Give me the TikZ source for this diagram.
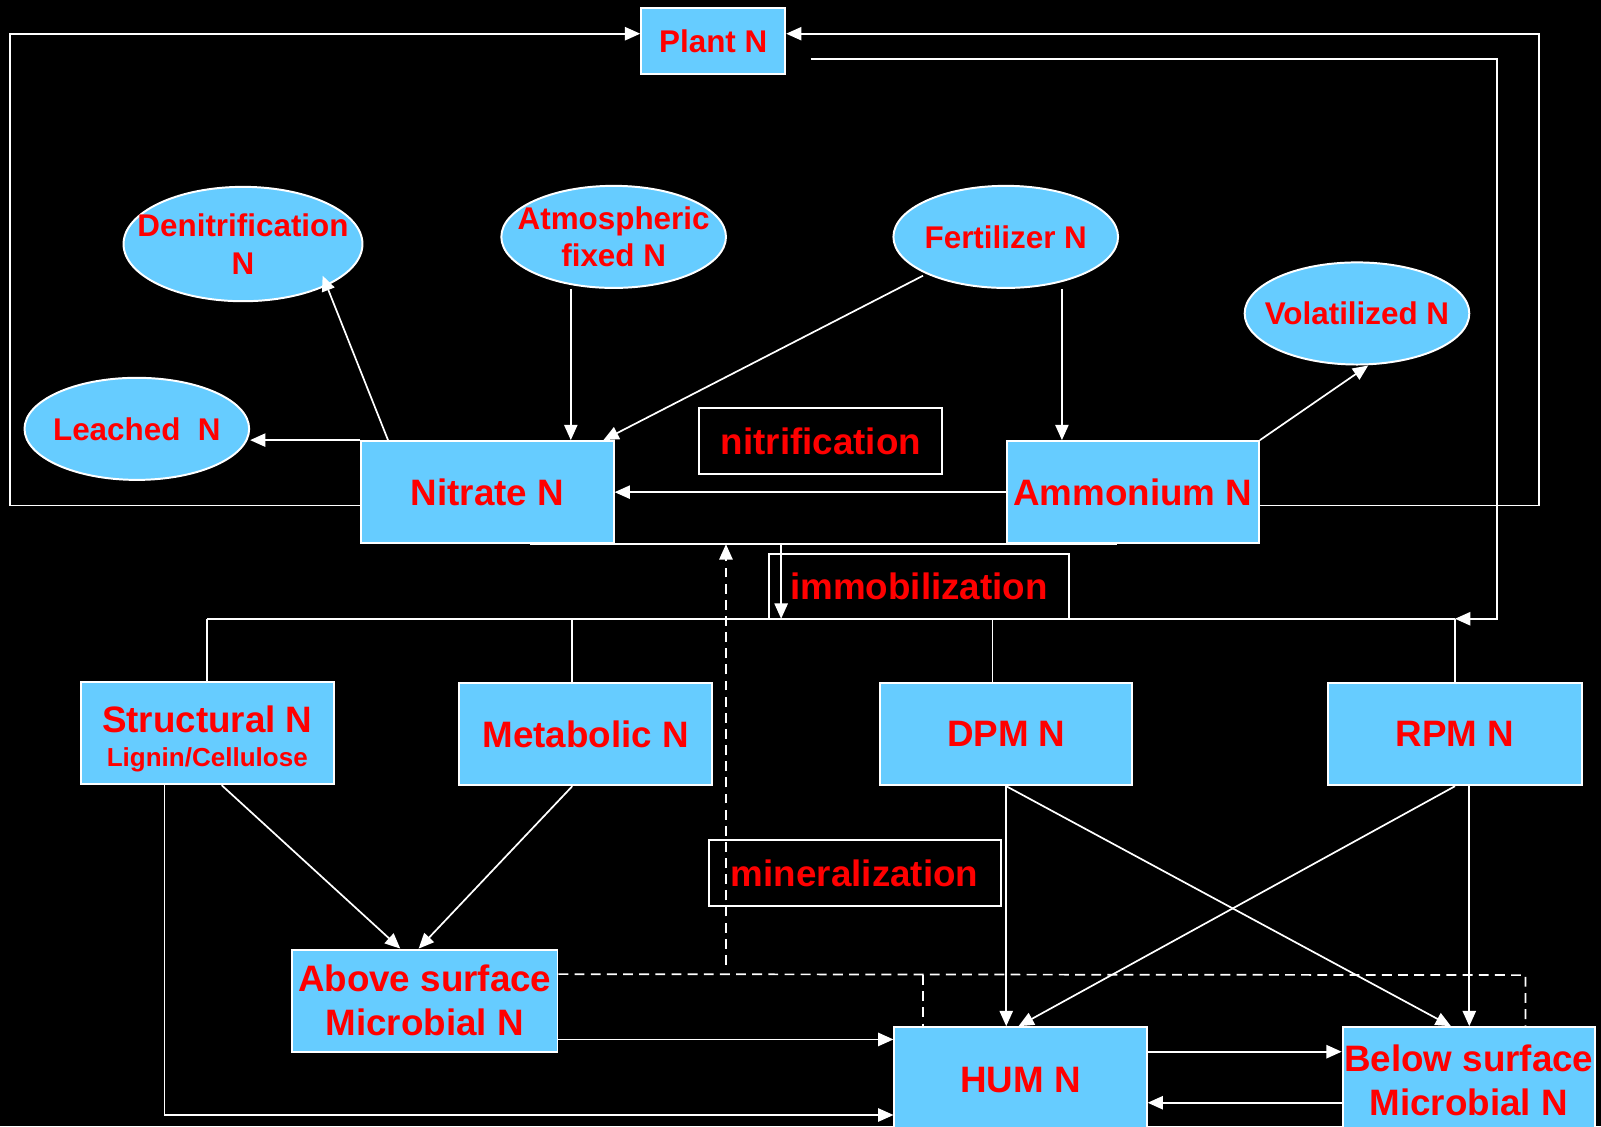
\documentclass[tikz,border=0pt]{standalone}
\usepackage{fontspec}
\setmainfont{Liberation Sans}
\usetikzlibrary{arrows.meta,calc,shapes.geometric}
\definecolor{boxblue}{RGB}{102,204,255}
\definecolor{txtred}{RGB}{255,0,0}
\newcommand\fbig{\fontsize{20.5}{24.5}\selectfont\bfseries}
\newcommand\fsmall{\fontsize{17.5}{21}\selectfont\bfseries}
\newcommand\ftiny{\fontsize{14.5}{17}\selectfont\bfseries}
\begin{document}
\begin{tikzpicture}[x=0.02cm,y=-0.02cm,
  pool/.style n args={2}{draw=white,line width=1.1pt,fill=boxblue,text=txtred,inner sep=0pt,align=center,minimum width=#1*0.02cm,minimum height=#2*0.02cm},
  ell/.style n args={2}{ellipse,draw=white,line width=1.1pt,fill=boxblue,inner sep=0pt,minimum width=#1*0.02cm,minimum height=#2*0.02cm},
  lab/.style={text=txtred,align=center,inner sep=0pt,font=\fsmall},
  proc/.style n args={2}{draw=white,line width=1.1pt,fill=black,text=txtred,inner sep=0pt,font=\fbig,minimum width=#1*0.02cm,minimum height=#2*0.02cm},
  conn/.style={draw=white,line width=0.95pt},
  tip/.style={-{Triangle[length=0.3cm,width=0.26cm]}},
  arr/.style={conn,tip},
  dline/.style={conn,dash pattern=on 5.5pt off 3.5pt}
]
\fill[black] (0,0) rectangle (1568,1103);
\useasboundingbox (0,0) rectangle (1568,1103);

% nodes
\node[pool={141}{64},font=\fsmall] (plant) at (698.5,40) {Plant N};
\node[ell={234}{112},label={[lab]center:{Denitrification\\N}}] (denit) at (238,239) {};
\node[ell={220}{100},label={[lab]center:{Atmospheric\\fixed N}}] (atm) at (601,232) {};
\node[ell={220}{100},label={[lab]center:{Fertilizer N}}] (fert) at (985,232) {};
\node[ell={220}{100},label={[lab]center:{Volatilized N}}] (vol) at (1329,307) {};
\node[ell={220}{100},label={[lab]center:{Leached\ \ N}}] (leached) at (134,420) {};
\node[pool={247}{100},font=\fbig] (nitrate) at (477.5,482) {Nitrate N};
\node[pool={247}{100},font=\fbig] (amm) at (1109.5,482) {Ammonium N};
\node[proc={238}{64}] (nitri) at (804,432) {nitrification};
\node[proc={294}{63}] (immob) at (900,574.5) {immobilization};
\node[pool={248}{100},label={[lab,font=\fbig,yshift=-0.12cm]center:{Structural N\\[-5.5pt]{\ftiny Lignin/Cellulose}}}] (struct) at (203,718) {};
\node[pool={247}{100},font=\fbig] (met) at (573.5,719) {Metabolic N};
\node[pool={247}{100},font=\fbig] (dpm) at (985.5,719) {DPM N};
\node[pool={248}{100},font=\fbig] (rpm) at (1425,719) {RPM N};
\node[proc={286}{64}] (miner) at (837,855) {mineralization};
\node[pool={260}{100},font=\fbig] (above) at (416,980) {Above surface\\Microbial N};
\node[pool={247}{104},font=\fbig] (hum) at (999.5,1058) {HUM N};
\node[pool={247}{104},font=\fbig] (below) at (1438.5,1058) {Below surface\\Microbial N};

% loops to Plant N
\coordinate (TL) at (10,33);
\coordinate (TR) at (1507,33);
\draw[arr] ($(nitrate.south west)+(0,-38)$) -| (TL) -- ($(plant.west)+(0,-7)$);
\draw[arr] ($(amm.south east)+(0,-38)$) -| (TR) -- ($(plant.east)+(0,-7)$);
\coordinate (PR) at (1466,606);
\draw[arr] ($(plant.east)+(24,18)$) -| (PR) -- (rpm.north |- PR);

% bus to litter pools
\draw[conn] (struct.north |- PR) -- (rpm.north |- PR);
\draw[conn] (struct.north) -- (struct.north |- PR);
\coordinate (mx) at ($(met.north)+(-13,0)$);
\draw[conn] (mx) -- (mx |- PR);
\coordinate (dx) at ($(dpm.north)+(-13.5,0)$);
\draw[conn] (dx) -- (dx |- PR);
\draw[conn] (rpm.north) -- (rpm.north |- PR);

% immobilization
\draw[conn] ($(nitrate.south west)+(166,0)$) -- ($(amm.south west)+(109,0)$);
\coordinate (im) at ($(nitrate.south west)+(412,0)$);
\draw[arr] (im) -- (im |- PR);

% upper part
\draw[arr] ($(nitrate.north west)+(27,0)$) -- ($(denit.center)+(78,31)$);
\draw[arr] (nitrate.north west) -- (leached.east |- nitrate.north west);
\coordinate (ax) at ($(nitrate.north west)+(206,0)$);
\draw[arr] (ax |- atm.south) -- (ax);
\draw[arr] ($(fert.center)+(-81,38)$) -- ($(nitrate.north east)+(-11,0)$);
\coordinate (fx) at ($(amm.north west)+(55,0)$);
\draw[arr] (fx |- fert.south) -- (fx);
\draw[arr] (amm.north east) -- ($(vol.south)+(11,0)$);
\draw[arr] (amm.west) -- (nitrate.east);

% mineralization (dashed)
\coordinate (mn) at (711,945);
\draw[dline,tip] (mn) -- (mn |- nitrate.south);
\coordinate (dr) at (1494,955);
\draw[dline] ($(above.north east)+(0,25)$) -- (dr) -- (dr |- below.north);
\coordinate (dh) at (904,955);
\draw[dline] (dh) -- (dh |- hum.north);

% lower part
\draw[arr] ($(struct.south west)+(139,0)$) -- ($(above.north west)+(107,0)$);
\draw[arr] ($(met.south)+(-13,0)$) -- ($(above.north west)+(125,0)$);
\draw[arr] ($(struct.south west)+(83,0)$) |- ($(hum.west)+(0,34)$);
\coordinate (a2) at ($(above.east)+(0,38)$);
\draw[arr] (a2) -- (a2 -| hum.west);
\draw[arr] (dpm.south) -- (dpm.south |- hum.north);
\draw[arr] (dpm.south) -- ($(below.north west)+(107,0)$);
\draw[arr] (rpm.south) -- ($(hum.north)+(-2,0)$);
\coordinate (r2) at ($(rpm.south)+(14,0)$);
\draw[arr] (r2) -- (r2 |- below.north);
\coordinate (h2) at ($(hum.east)+(0,-28)$);
\draw[arr] (h2) -- (h2 -| below.west);
\coordinate (b2) at ($(below.west)+(0,22)$);
\draw[arr] (b2) -- (b2 -| hum.east);
\end{tikzpicture}
\end{document}
